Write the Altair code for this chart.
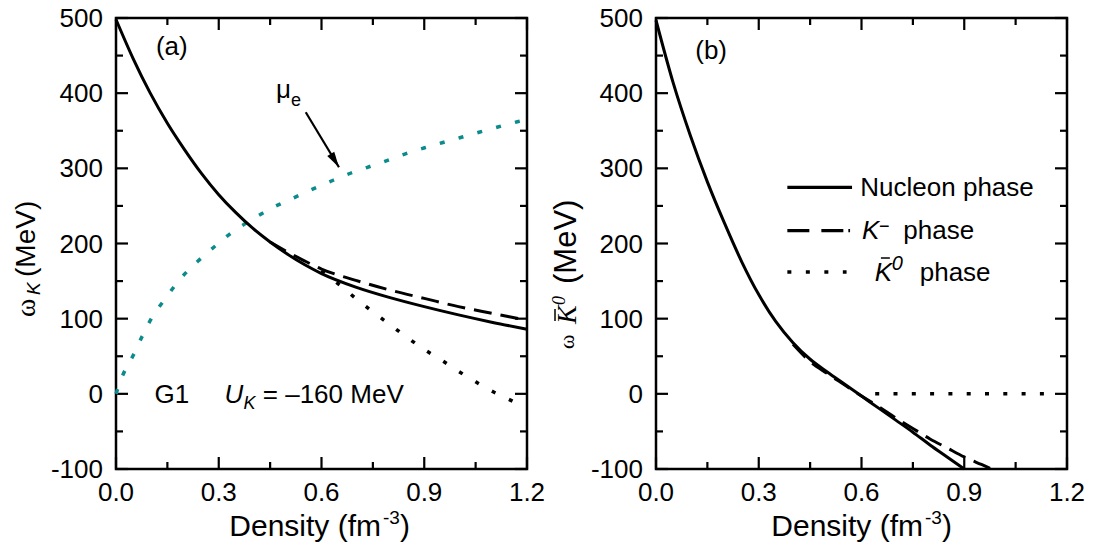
import altair as alt
import pandas as pd

# ---------------- data ----------------
density_major = [0.0, 0.3, 0.6, 0.9, 1.2]
density_labels = ["0.0", "0.3", "0.6", "0.9", "1.2"]
density_minor = [0.15, 0.45, 0.75, 1.05]
omega_major = [-100, 0, 100, 200, 300, 400, 500]
omega_labels = ["-100", "0", "100", "200", "300", "400", "500"]
omega_minor = [-50, 50, 150, 250, 350, 450]

# panel (a): omega_K
a_nucleon_x = [0, 0.05, 0.1, 0.15, 0.2, 0.25, 0.3, 0.35, 0.4, 0.45, 0.5, 0.55, 0.6, 0.7, 0.8, 0.9, 1.0, 1.1, 1.2]
a_nucleon_y = [498, 446, 400, 360, 325, 293, 265, 241, 220, 202, 186, 172, 160, 142, 128, 116, 105, 95, 86]
a_kminus_x = [0.45, 0.5, 0.55, 0.6, 0.7, 0.8, 0.9, 1.0, 1.1, 1.2]
a_kminus_y = [202, 189, 177, 166, 151, 138, 127, 116, 107, 98]
a_kbar0_x = [0.6, 0.65, 0.7, 0.75, 0.8, 0.85, 0.9, 0.95, 1.0, 1.05, 1.1, 1.15, 1.18]
a_kbar0_y = [164, 146, 127, 109, 92, 75, 59, 45, 30, 16, 3, -8, -15]
mu_e_x = [0, 0.02, 0.049, 0.077, 0.107, 0.143, 0.186, 0.238, 0.288, 0.342, 0.398, 0.454, 0.511,
          0.567, 0.623, 0.676, 0.732, 0.789, 0.843, 0.899, 0.952, 1.006, 1.06, 1.115, 1.172, 1.19]
mu_e_y = [0, 25, 50, 77, 103, 126, 152, 176, 196, 216, 232, 247, 259,
          271, 282, 292, 301, 310, 319, 327, 334, 341, 348, 355, 362, 364]

# panel (b): omega_Kbar0
b_nucleon_x = [0, 0.05, 0.1, 0.15, 0.2, 0.25, 0.3, 0.35, 0.4, 0.45, 0.5, 0.55, 0.6, 0.65, 0.7, 0.75, 0.8, 0.85, 0.9]
b_nucleon_y = [497, 414, 344, 282, 227, 176, 132, 96, 68, 46, 29, 13, -3, -19, -35, -51, -68, -84, -100]
b_kminus_x = [0.4, 0.45, 0.5, 0.55, 0.6, 0.65, 0.7, 0.75, 0.8, 0.85, 0.9, 0.95, 0.98]
b_kminus_y = [66, 43, 27, 12, -3, -17, -32, -46, -60, -72, -84, -94, -100]
b_kbar0_x = [0.64, 1.15]
b_kbar0_y = [0, 0]

# ---------------- layout ----------------
PW, GAP, PH = 411, 129, 451
RA = [0, PW]
RB = [PW + GAP, 2 * PW + GAP]
SANS = "Liberation Sans"
SERIF = "Liberation Serif"
TEAL = "#0b8b8b"


def X(field, rng):
    return alt.X(field, type="quantitative",
                 scale=alt.Scale(domain=[0, 1.2], range=rng, nice=False, zero=False), axis=None)


def Y(field):
    return alt.Y(field, type="quantitative",
                 scale=alt.Scale(domain=[-100, 500], nice=False, zero=False), axis=None)


def line(xs, ys, rng, color="black", width=3.0, dash=None):
    df = pd.DataFrame({"x": xs, "y": ys})
    kw = dict(color=color, strokeWidth=width, strokeCap="butt", interpolate="monotone")
    if dash is not None:
        kw["strokeDash"] = dash
    return alt.Chart(df).mark_line(**kw).encode(x=X("x", rng), y=Y("y"))


def frame(rng):
    df = pd.DataFrame({"x0": [0.0], "x1": [1.2], "y0": [-100], "y1": [500]})
    return alt.Chart(df).mark_rect(fillOpacity=0, stroke="black", strokeWidth=2.5).encode(
        x=X("x0", rng), x2="x1", y=Y("y0"), y2="y1")


def ticks(values, rng, side, length):
    if side in ("bottom", "top"):
        yv = -100 if side == "bottom" else 500
        off = -length / 2 if side == "bottom" else length / 2
        df = pd.DataFrame({"x": values, "y": [yv] * len(values)})
        return alt.Chart(df).mark_tick(orient="vertical", size=length, thickness=2.2,
                                       color="black", opacity=1, yOffset=off).encode(
            x=X("x", rng), y=Y("y"))
    xv = 0.0 if side == "left" else 1.2
    off = length / 2 if side == "left" else -length / 2
    df = pd.DataFrame({"x": [xv] * len(values), "y": values})
    return alt.Chart(df).mark_tick(orient="horizontal", size=length, thickness=2.2,
                                   color="black", opacity=1, xOffset=off).encode(
        x=X("x", rng), y=Y("y"))


def tick_labels(rng):
    dfx = pd.DataFrame({"x": density_major, "y": [-100] * 5, "t": density_labels})
    dfy = pd.DataFrame({"x": [0.0] * 7, "y": omega_major, "t": omega_labels})
    lx = alt.Chart(dfx).mark_text(font=SANS, fontSize=26, baseline="alphabetic", align="center",
                                  dy=32).encode(x=X("x", rng), y=Y("y"), text="t:N")
    ly = alt.Chart(dfy).mark_text(font=SANS, fontSize=26, baseline="alphabetic", align="right",
                                  dx=-13, dy=9).encode(x=X("x", rng), y=Y("y"), text="t:N")
    return [lx, ly]


def dtext(txt, x, y, rng, size=26, font=SANS, style="normal", align="left", baseline="alphabetic"):
    df = pd.DataFrame({"x": [x], "y": [y], "t": [txt]})
    return alt.Chart(df).mark_text(font=font, fontSize=size, fontStyle=style, align=align,
                                   baseline=baseline, color="black").encode(
        x=X("x", rng), y=Y("y"), text="t:N")


def ptext(txt, x, y, size=26, font=SANS, style="normal", align="left", angle=0):
    df = pd.DataFrame({"t": [txt]})
    return alt.Chart(df).mark_text(font=font, fontSize=size, fontStyle=style, align=align,
                                   baseline="alphabetic", angle=angle, color="black").encode(
        x=alt.value(x), y=alt.value(y), text="t:N")


def prule(x1, y1, x2, y2, w=1.5):
    df = pd.DataFrame({"t": [0]})
    return alt.Chart(df).mark_rule(color="black", strokeWidth=w).encode(
        x=alt.value(x1), y=alt.value(y1), x2=alt.value(x2), y2=alt.value(y2))


def drule(x1, y1, x2, y2, rng, w=2.0, dash=None, color="black"):
    df = pd.DataFrame({"x": [x1], "x2": [x2], "y": [y1], "y2": [y2]})
    kw = dict(color=color, strokeWidth=w)
    if dash is not None:
        kw["strokeDash"] = dash
    return alt.Chart(df).mark_rule(**kw).encode(x=X("x", rng), x2="x2", y=Y("y"), y2="y2")


def axes(rng):
    out = [frame(rng)]
    for side in ("bottom", "top"):
        out.append(ticks(density_major, rng, side, 12))
        out.append(ticks(density_minor, rng, side, 7))
    for side in ("left", "right"):
        out.append(ticks(omega_major, rng, side, 12))
        out.append(ticks(omega_minor, rng, side, 7))
    out += tick_labels(rng)
    return out


def xtitle(offset):
    return [
        ptext("Density (fm", 265 + offset, 518, size=30, align="right"),
        ptext("-3", 267 + offset, 506, size=19),
        ptext(")", 284 + offset, 518, size=30),
    ]


layers = []

# ---- panel (a) ----
layers += axes(RA)
layers.append(line(mu_e_x, mu_e_y, RA, color=TEAL, width=3.5, dash=[5, 14.5]))
layers.append(line(a_nucleon_x, a_nucleon_y, RA, width=3))
layers.append(line(a_kminus_x, a_kminus_y, RA, width=3, dash=[18, 9]))
layers.append(line(a_kbar0_x, a_kbar0_y, RA, width=3.5, dash=[4, 15]))
layers.append(dtext("(a)", 0.163, 462, RA, align="center", baseline="middle"))
layers.append(dtext("G1", 0.163, -12, RA, align="center"))
layers.append(dtext("U", 0.317, -12, RA, style="italic"))
layers.append(dtext("K", 0.372, -20, RA, size=18, style="italic"))
layers.append(dtext("= \u2013160 MeV", 0.4286, -12, RA))
layers.append(dtext("\u03bc", 0.467, 393.6, RA))
layers.append(dtext("e", 0.511, 383, RA, size=18))
# arrow to mu_e
arrow_x = [0.554, 0.651]
arrow_y = [374.6, 301.4]
layers.append(drule(arrow_x[0], arrow_y[0], arrow_x[1], arrow_y[1], RA, w=2.2))
head = pd.DataFrame({"x": [arrow_x[1]], "y": [arrow_y[1]]})
layers.append(alt.Chart(head).mark_point(shape="M0,0L-0.26,1L0.26,1Z", size=1000, angle=148.7,
                                         filled=True, color="black", opacity=1, strokeWidth=0).encode(
    x=X("x", RA), y=Y("y")))
layers += xtitle(0)
# y title (a)
layers.append(ptext("\u03c9", -81, 299, size=28, font=SERIF, angle=270))
layers.append(ptext("K", -76, 277, size=19, style="italic", angle=270))
layers.append(ptext("(MeV)", -81, 259, size=28, angle=270))

# ---- panel (b) ----
layers += axes(RB)
layers.append(line(b_nucleon_x, b_nucleon_y, RB, width=3))
layers.append(line(b_kminus_x, b_kminus_y, RB, width=3, dash=[18, 9]))
layers.append(line(b_kbar0_x, b_kbar0_y, RB, width=3.5, dash=[4, 14.3]))
layers.append(dtext("(b)", 0.161, 456, RB, align="center", baseline="middle"))
# legend
layers.append(drule(0.3835, 274.8, 0.5724, 274.8, RB, w=3.2))
layers.append(dtext("Nucleon phase", 0.5965, 263.6, RB))
layers.append(drule(0.3835, 217, 0.5666, 217, RB, w=3.2, dash=[22, 12, 22, 5, 2, 60]))
layers.append(dtext("K", 0.6015, 206, RB, style="italic"))
layers.append(dtext("\u2212", 0.651, 215, RB, size=18))
layers.append(dtext("phase", 0.722, 206, RB))
layers.append(drule(0.3835, 162.1, 0.5564, 162.1, RB, w=3.5, dash=[4, 14.5]))
layers.append(dtext("K", 0.639, 150.5, RB, style="italic"))
layers.append(drule(0.6567, 180.7, 0.6828, 180.7, RB, w=1.5))
layers.append(dtext("0", 0.6886, 164.8, RB, size=20, style="italic"))
layers.append(dtext("phase", 0.77, 150.5, RB))
layers += xtitle(PW + GAP + 2)
# y title (b)
layers.append(ptext("\u03c9", 458, 331, size=22, font=SERIF, angle=270))
layers.append(ptext("K", 460, 306, size=28, font=SERIF, style="italic", angle=270))
layers.append(prule(439, 291, 439, 303, w=1.5))
layers.append(ptext("0", 449, 287, size=18, font=SERIF, style="italic", angle=270))
layers.append(ptext("(MeV)", 460, 266, size=31, angle=270))

chart = alt.layer(*layers).resolve_scale(x="independent").properties(
    width=2 * PW + GAP,
    height=PH,
    autosize=alt.AutoSizeParams(type="none"),
    padding={"left": 108, "top": 10, "right": 20, "bottom": 73},
).configure_view(strokeWidth=0)

chart.save("out.html", embed_options={"renderer": "svg", "actions": False})
